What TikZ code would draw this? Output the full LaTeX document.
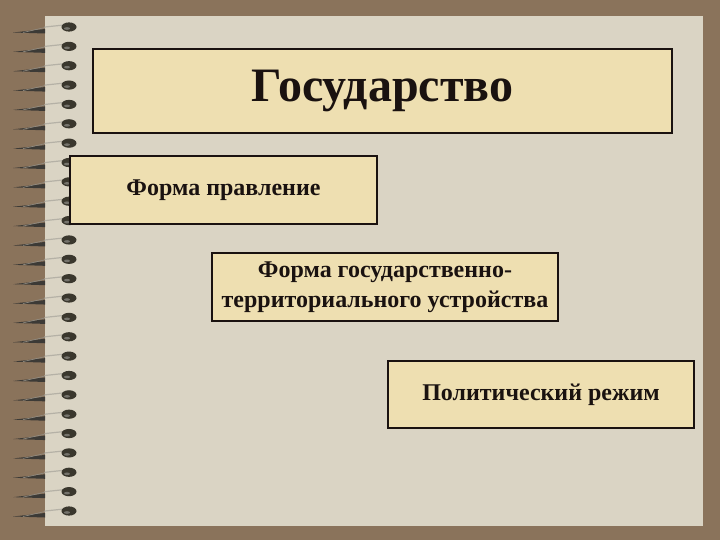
\documentclass[tikz,border=0pt]{standalone}
\usepackage{fontspec}
\setmainfont{Liberation Serif}
\definecolor{frame}{HTML}{8A735B}
\definecolor{paper}{HTML}{DAD4C4}
\definecolor{boxfill}{HTML}{EEDFB1}
\definecolor{ink}{HTML}{1A1210}
\definecolor{hole}{HTML}{3A372D}
\definecolor{wire}{HTML}{3C3A36}
\definecolor{wirelight}{HTML}{B5B1A6}
\begin{document}
\begin{tikzpicture}[x=1pt,y=-1pt,
  card/.style={draw=ink,line width=1.1pt,fill=boxfill,inner sep=0pt,text=ink,font=\bfseries,align=center},
  holestyle/.style={fill=hole,draw=none},
  wirestyle/.style={fill=wire,draw=none},
  wirehl/.style={draw=wirelight,line width=1.2pt,line cap=round}]
\useasboundingbox (0,0) rectangle (720,540);
\fill[frame] (0,0) rectangle (720,540);
\fill[paper] (45,16) rectangle (703,526);
% spiral binding
\foreach \i in {0,...,25}{
  \pgfmathsetmacro{\yy}{27+\i*19.36}
  \coordinate (v\i) at (13,\yy+5.5);
  \coordinate (u\i) at (45,\yy+2);
  \coordinate (l\i) at (45,\yy+6.5);
  \coordinate (h\i) at (69,\yy);
  \fill[wirestyle] (v\i) -- (u\i) -- (l\i) -- cycle;
  \draw[draw=wirelight!70!wire,line width=0.6pt] ([xshift=10pt]v\i) -- ([yshift=1.5pt]u\i);
  \draw[wirehl] ([yshift=2pt]u\i) -- ([xshift=-5pt,yshift=2pt]h\i);
  \fill[holestyle] (h\i) ellipse [x radius=7.5, y radius=4.6];
  \fill[hole!40!white,opacity=0.5] ([xshift=-2pt,yshift=-1.5pt]h\i) ellipse [x radius=3, y radius=1.3];
}
% boxes
\node[card,minimum width=579pt,minimum height=84pt,font=\bfseries\fontsize{48}{56}\selectfont] (state) at (382.5,91) {Государство};
\node[card,minimum width=307pt,minimum height=68pt,font=\bfseries\fontsize{24}{28}\selectfont] (gov) at (223.5,190) {Форма правление};
\node[card,minimum width=346pt,minimum height=68pt,font=\bfseries\fontsize{24}{30}\selectfont] (terr) at (385,287) {Форма государственно-\\территориального устройства};
\node[card,minimum width=306pt,minimum height=67pt,font=\bfseries\fontsize{24}{28}\selectfont] (regime) at (541,394.5) {Политический режим};
\end{tikzpicture}
\end{document}
